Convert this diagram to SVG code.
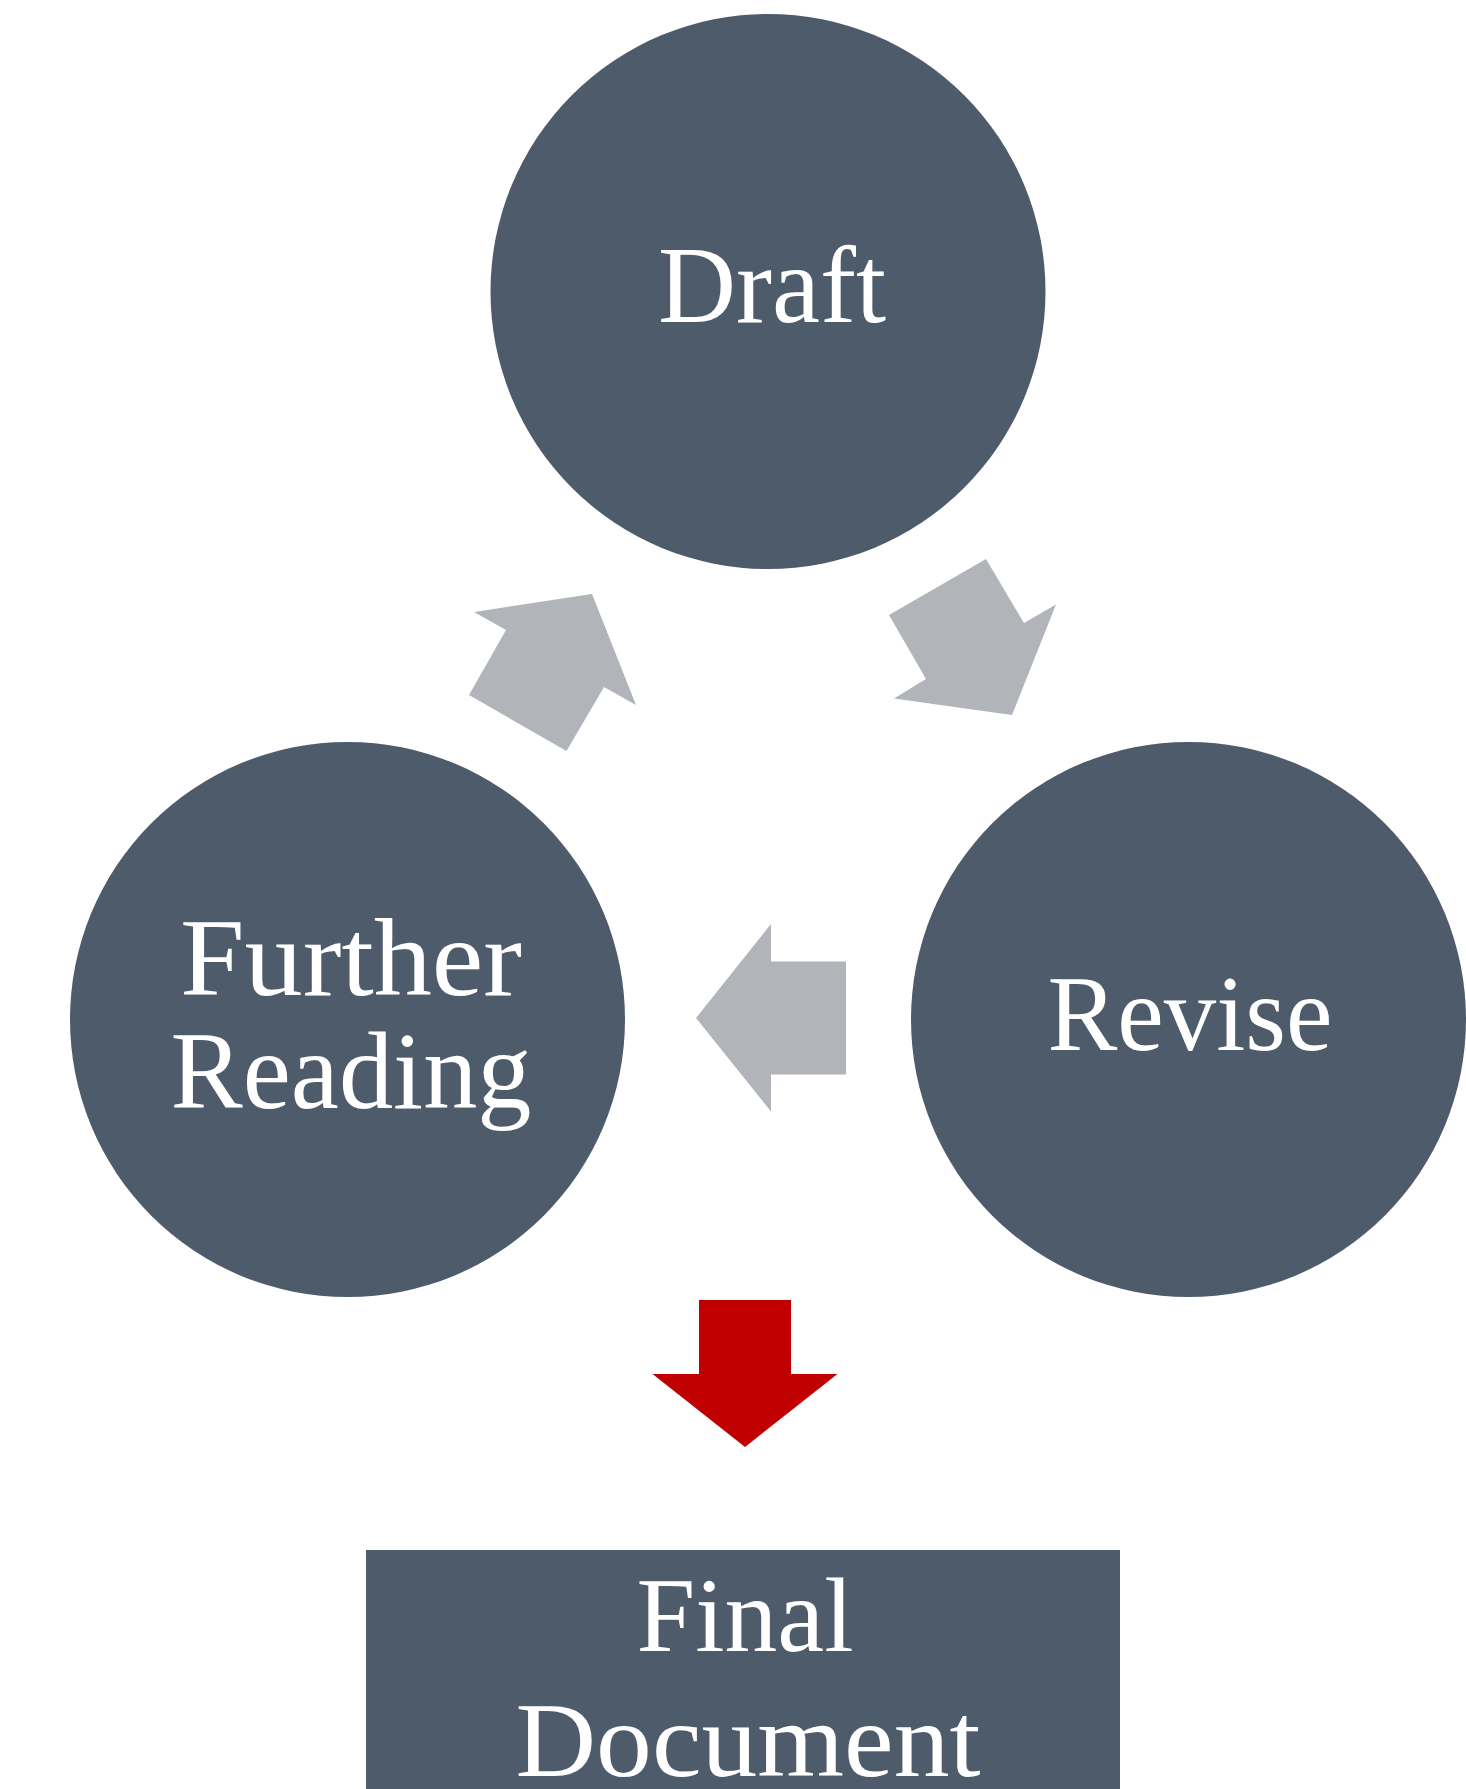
<svg xmlns="http://www.w3.org/2000/svg" width="1466" height="1789" viewBox="0 0 1466 1789">
<style>
.node{fill:#4E5B6B}
.lbl{font-family:"Liberation Serif","Times New Roman",serif;fill:#FFFFFF;text-anchor:middle}
.cyc{fill:#B1B4B8}
.out{fill:#C00000}
</style>
<rect x="0" y="0" width="1466" height="1789" fill="#FFFFFF"/>
<g id="connectors">
<polygon class="cyc" points="474,612 592,594 636,705 604,687 566.5,751 469,695 506,630"/>
<polygon class="cyc" points="986,559 1024,623 1056,604.5 1012,715 894,698.5 926,679 889,615"/>
<polygon class="cyc" points="696,1018 771,924 771,961.5 846,961.5 846,1074.5 771,1074.5 771,1111.5"/>
<polygon class="out" points="699,1300 791,1300 791,1374 837.5,1374 745,1447 652.5,1374 699,1374"/>
</g>
<g id="draft">
<circle class="node" cx="768" cy="291.5" r="277.5"/>
<text class="lbl" x="772" y="322" font-size="110" textLength="228" lengthAdjust="spacingAndGlyphs">Draft</text>
</g>
<g id="revise">
<circle class="node" cx="1188.5" cy="1019.5" r="277.5"/>
<text class="lbl" x="1190" y="1050" font-size="108" textLength="285" lengthAdjust="spacingAndGlyphs">Revise</text>
</g>
<g id="further-reading">
<circle class="node" cx="347.5" cy="1019.5" r="277.5"/>
<text class="lbl" x="351" y="995" font-size="110" textLength="342" lengthAdjust="spacingAndGlyphs">Further</text>
<text class="lbl" x="351" y="1108" font-size="110" textLength="361" lengthAdjust="spacingAndGlyphs">Reading</text>
</g>
<g id="final-document">
<rect class="node" x="366" y="1550" width="754" height="250"/>
<text class="lbl" x="745" y="1651" font-size="106" textLength="217" lengthAdjust="spacingAndGlyphs">Final</text>
<text class="lbl" x="748" y="1776" font-size="106" textLength="465" lengthAdjust="spacingAndGlyphs">Document</text>
</g>
</svg>
